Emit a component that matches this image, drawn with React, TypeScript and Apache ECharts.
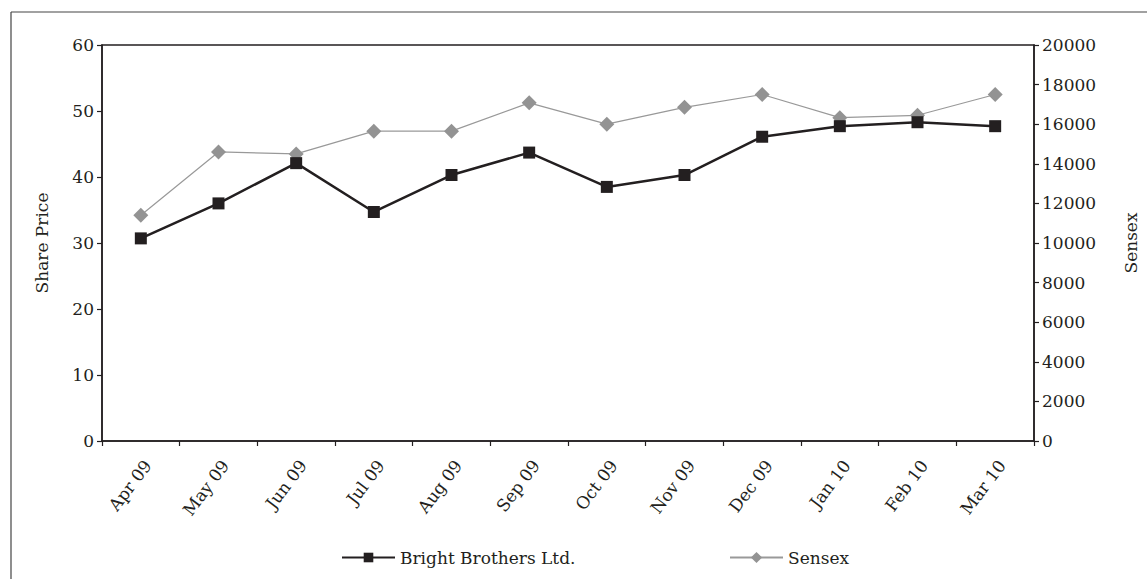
import React, { useEffect, useRef } from "react";
import * as echarts from "echarts";

const categories = ["Apr 09", "May 09", "Jun 09", "Jul 09", "Aug 09", "Sep 09", "Oct 09", "Nov 09", "Dec 09", "Jan 10", "Feb 10", "Mar 10"];
const brightBrothers = [30.7, 36.0, 42.1, 34.7, 40.3, 43.7, 38.5, 40.3, 46.1, 47.7, 48.3, 47.7];
const sensex = [11400, 14600, 14500, 15650, 15650, 17080, 16000, 16850, 17500, 16330, 16450, 17500];

const FONT = "'DejaVu Serif', 'Liberation Serif', serif";
const INK = "#231f20";
const FS = 17;

export default function App() {
  const ref = useRef<HTMLDivElement>(null);
  useEffect(() => {
    if (!ref.current) return;
    const chart = echarts.init(ref.current, undefined, { renderer: "svg" });
    chart.setOption({
      animation: false,
      backgroundColor: "#ffffff",
      textStyle: { fontFamily: FONT, color: INK },
      graphic: [
        { type: "line", shape: { x1: 11, y1: 12, x2: 11, y2: 579 }, style: { stroke: "#444", lineWidth: 1.2 } },
        { type: "line", shape: { x1: 11, y1: 12, x2: 1147, y2: 12 }, style: { stroke: "#444", lineWidth: 1.2 } },
      ],
      grid: {
        left: 102, right: 110, top: 45, bottom: 138,
        show: true, borderColor: INK, borderWidth: 1.5, backgroundColor: "transparent",
      },
      legend: [
        {
          data: ["Bright Brothers Ltd."], left: 336, top: 544, itemWidth: 53, itemHeight: 12, itemGap: 10,
          textStyle: { fontFamily: FONT, fontSize: FS, color: INK },
        },
        {
          data: ["Sensex"], left: 724, top: 544, itemWidth: 53, itemHeight: 14, itemGap: 8,
          textStyle: { fontFamily: FONT, fontSize: FS, color: INK },
        },
      ],
      xAxis: {
        type: "category",
        data: categories,
        boundaryGap: true,
        axisLine: { show: true, lineStyle: { color: INK, width: 1.5 } },
        axisTick: { show: true, length: 5, alignWithLabel: false, lineStyle: { color: INK, width: 1.2 } },
        axisLabel: { rotate: 53, margin: 16, verticalAlign: "top", fontSize: FS, fontFamily: FONT, color: INK, interval: 0 },
        splitLine: { show: false },
      },
      yAxis: [
        {
          type: "value", min: 0, max: 60, interval: 10, position: "left",
          name: "Share Price", nameLocation: "middle", nameRotate: 90, nameGap: 52,
          nameTextStyle: { fontFamily: FONT, fontSize: FS, color: INK },
          axisLine: { show: true, lineStyle: { color: INK, width: 1.5 } },
          axisTick: { show: true, length: 5, lineStyle: { color: INK, width: 1.2 } },
          axisLabel: { fontSize: FS, fontFamily: FONT, color: INK, margin: 8 },
          splitLine: { show: false },
        },
        {
          type: "value", min: 0, max: 20000, interval: 2000, position: "right",
          name: "Sensex", nameLocation: "middle", nameRotate: 90, nameGap: 88,
          nameTextStyle: { fontFamily: FONT, fontSize: FS, color: INK },
          axisLine: { show: true, lineStyle: { color: INK, width: 1.5 } },
          axisTick: { show: true, length: 5, lineStyle: { color: INK, width: 1.2 } },
          axisLabel: { fontSize: FS, fontFamily: FONT, color: INK, margin: 8, formatter: (v: number) => String(v) },
          splitLine: { show: false },
        },
      ],
      series: [
        {
          name: "Sensex", type: "line", yAxisIndex: 1, data: sensex,
          symbol: "diamond", symbolSize: 15,
          lineStyle: { color: "#999999", width: 1.2 },
          itemStyle: { color: "#939393" },
          z: 2,
        },
        {
          name: "Bright Brothers Ltd.", type: "line", yAxisIndex: 0, data: brightBrothers,
          symbol: "rect", symbolSize: 12,
          lineStyle: { color: INK, width: 2.5 },
          itemStyle: { color: INK },
          z: 3,
        },
      ],
    });
    return () => chart.dispose();
  }, []);
  return <div ref={ref} style={{ position: "fixed", left: 0, top: 0, width: 1147, height: 579 }} />;
}
